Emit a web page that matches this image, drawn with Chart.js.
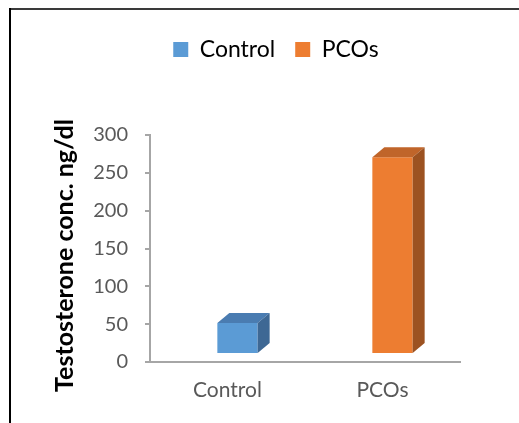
<!DOCTYPE html>
<html>
<head>
<meta charset="utf-8">
<script src="https://cdn.jsdelivr.net/npm/chart.js@4"></script>
<style>
  html, body { margin: 0; padding: 0; background: #fff; }
  #wrap { width: 519px; height: 423px; position: relative; }
</style>
</head>
<body>
<div id="wrap"><canvas id="c" width="519" height="423"></canvas></div>
<script>
// Testosterone concentration (ng/dl) by group
const categories = ['Control', 'PCOs'];
const controlValues = [41, null];
const pcosValues = [null, 260];
const yTicks = [0, 50, 100, 150, 200, 250, 300];

// face colours for the pseudo-3D columns: front, top, side
const faces = {
  Control: { front: '#5B9BD5', top: '#4A7CB1', side: '#3E6894' },
  PCOs:    { front: '#ED7D31', top: '#C0652A', side: '#9C5221' }
};
const DEPTH_X = 12, DEPTH_Y = -10;   // oblique depth of each column
const SHIFT_X = 10, SHIFT_Y = -8;    // columns sit in the middle of the floor depth
const TITLE_SHIFT_Y = 7;             // axis title sits a little below the plot's middle

Chart.defaults.font.family = 'Lato, "Open Sans", sans-serif';

// reserve space between legend and plot
const legendSpacer = {
  id: 'legendSpacer',
  beforeInit(chart) {
    const fit = chart.legend.fit;
    chart.legend.fit = function () {
      fit.call(this);
      this.height += 64;
    };
  },
  afterLayout(chart) {
    chart.legend.left += 46;
    chart.legend.right += 46;
  }
};

// outer frame lines
const frame = {
  id: 'frame',
  beforeDraw(chart) {
    const ctx = chart.ctx;
    ctx.save();
    ctx.lineWidth = 2;
    ctx.strokeStyle = '#3a3a3a';
    ctx.beginPath();
    ctx.moveTo(10, 9); ctx.lineTo(chart.width, 9);
    ctx.stroke();
    ctx.strokeStyle = '#000';
    ctx.beginPath();
    ctx.moveTo(10, 8); ctx.lineTo(10, chart.height);
    ctx.stroke();
    ctx.restore();
  }
};

// top and side faces added to each bar
const columns3d = {
  id: 'columns3d',
  beforeDatasetsDraw(chart) {
    chart.ctx.save();
    chart.ctx.translate(SHIFT_X, SHIFT_Y);
  },
  afterDatasetsDraw(chart) {
    const ctx = chart.ctx;
    chart.data.datasets.forEach((ds, di) => {
      const meta = chart.getDatasetMeta(di);
      const f = faces[ds.label];
      meta.data.forEach((bar, i) => {
        if (ds.data[i] == null) return;
        const p = bar.getProps(['x', 'y', 'base', 'width'], true);
        const L = p.x - p.width / 2, R = p.x + p.width / 2, T = p.y, B = p.base;
        ctx.fillStyle = f.top;
        ctx.beginPath();
        ctx.moveTo(L, T); ctx.lineTo(R, T);
        ctx.lineTo(R + DEPTH_X, T + DEPTH_Y); ctx.lineTo(L + DEPTH_X, T + DEPTH_Y);
        ctx.closePath(); ctx.fill();
        ctx.fillStyle = f.side;
        ctx.beginPath();
        ctx.moveTo(R, T); ctx.lineTo(R + DEPTH_X, T + DEPTH_Y);
        ctx.lineTo(R + DEPTH_X, B + DEPTH_Y); ctx.lineTo(R, B);
        ctx.closePath(); ctx.fill();
      });
    });
    ctx.restore();
  }
};

new Chart(document.getElementById('c'), {
  type: 'bar',
  data: {
    labels: categories,
    datasets: [
      { label: 'Control', data: controlValues, backgroundColor: faces.Control.front, borderWidth: 0 },
      { label: 'PCOs', data: pcosValues, backgroundColor: faces.PCOs.front, borderWidth: 0 }
    ]
  },
  options: {
    responsive: false,
    animation: false,
    devicePixelRatio: 1,
    layout: { padding: { top: 18, left: 0, right: 59, bottom: 0 } },
    datasets: { bar: { grouped: false, barPercentage: 0.26, categoryPercentage: 1, clip: false } },
    plugins: {
      tooltip: { enabled: false },
      legend: {
        position: 'top',
        labels: {
          boxWidth: 15, boxHeight: 15, padding: 20,
          color: '#000', font: { size: 23 }
        }
      }
    },
    scales: {
      x: {
        grid: { display: false, drawTicks: false },
        border: { display: true, color: '#A6A6A6', width: 2 },
        ticks: { color: '#595959', font: { size: 21 }, padding: 16 },
        afterFit(s) { s.height = 61; }
      },
      y: {
        min: 0, max: 300,
        afterBuildTicks(s) { s.ticks = yTicks.map(v => ({ value: v })); },
        grid: { drawOnChartArea: false, drawTicks: true, tickLength: 5, color: '#A6A6A6', lineWidth: 2 },
        border: { display: true, color: '#A6A6A6', width: 2 },
        ticks: { color: '#595959', font: { size: 20 }, padding: 17 },
        title: {
          display: true,
          text: 'Testosterone conc. ng/dl',
          color: '#000',
          font: { size: 25, weight: 'bold' },
          padding: { top: 50, bottom: 0 }
        },
        afterFit(s) {
          s.width = 150;
          if (!s._titleShifted) {
            const drawTitle = s.drawTitle;
            s.drawTitle = function () {
              this.ctx.save();
              this.ctx.translate(0, TITLE_SHIFT_Y);
              drawTitle.call(this);
              this.ctx.restore();
            };
            s._titleShifted = true;
          }
        }
      }
    }
  },
  plugins: [legendSpacer, frame, columns3d]
});
</script>
</body>
</html>
